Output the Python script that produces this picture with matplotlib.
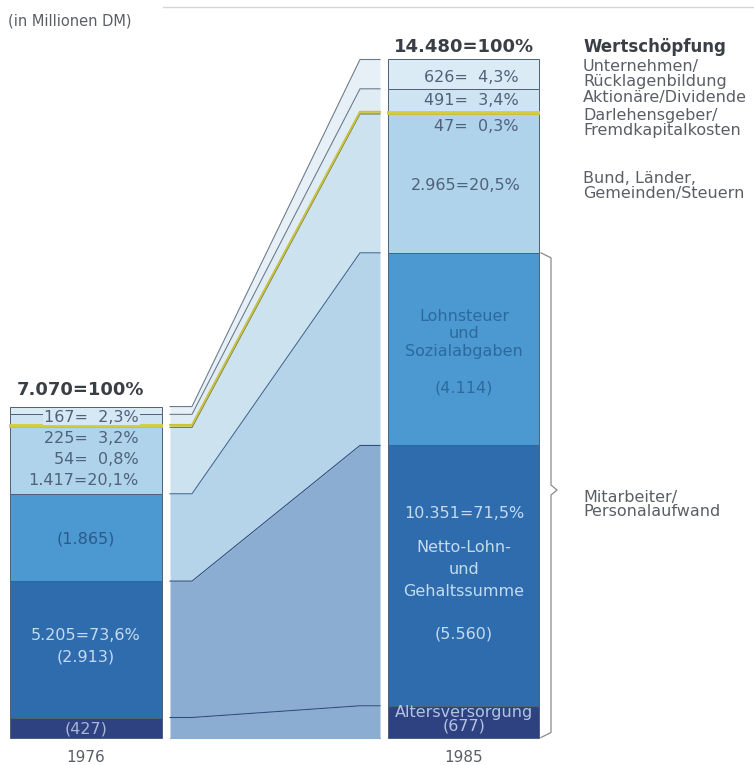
import matplotlib.pyplot as plt
import numpy as np

# Wertschoepfung in Mio DM, 1976 und 1985 (von unten nach oben gestapelt)
years = ['1976', '1985']
altersversorgung = [427, 677]
netto_lohn = [2913, 5560]
lohnsteuer = [1865, 4114]
steuern = [1417, 2965]
fremdkapital = [54, 47]
dividende = [225, 491]
ruecklagen = [167, 626]
totals = [7070, 14480]

segments = [altersversorgung, netto_lohn, lohnsteuer, steuern,
            fremdkapital, dividende, ruecklagen]
bar_cols = ['#2e4282', '#2f6cae', '#4b99d0', '#aed3eb',
            '#e2df55', '#cfe4f2', '#dbebf5']
band_cols = ['#8cadd2', '#8cadd2', '#b6d4e9', '#cde2ef',
             '#d9d86a', '#dfecf4', '#e6f0f6']
line_cols = ['#2f4f7f', '#2f4f7f', '#3f6a95', '#6a7b8c',
             '#c9c235', '#6a7b8c', '#6a7b8c']
edge_cols = ['#4d6078', '#4d6078', '#4d6078', '#4d6078',
             '#d4cc3a', '#4d6078', '#4d6078']

W, H = 754, 765
base_px = 737.5
k = 678 / 14480.0  # pixel je Mio DM

fig = plt.figure(figsize=(W / 100, H / 100), dpi=100)
ax = fig.add_axes([0, 0, 1, 1])
ax.set_xlim(0, W)
ax.set_ylim(-(H - base_px) / k, base_px / k)
ax.axis('off')

bar_x = [86, 463.5]
bar_w = [152, 151]
band_x = [170, 192, 360, 380]

bottom = np.zeros(2)
for vals, bc, fc, lc, ec in zip(segments, bar_cols, band_cols, line_cols,
                                edge_cols):
    vals = np.array(vals, dtype=float)
    top = bottom + vals
    yellow = ec != '#4d6078'
    ax.bar(bar_x, vals, width=bar_w, bottom=bottom, color=bc,
           edgecolor=ec, linewidth=1.3 if yellow else 0.7,
           zorder=3 if yellow else 2)
    lo = [bottom[0], bottom[0], bottom[1], bottom[1]]
    hi = [top[0], top[0], top[1], top[1]]
    ax.fill_between(band_x, lo, hi, color=fc, linewidth=0, zorder=1)
    ax.plot(band_x, hi, color=lc, lw=1.4 if yellow else 0.8, zorder=3)
    bottom = top
# Unterkante des Bandes
ax.plot([band_x[0], band_x[-1]], [0, 0], color='#8cadd2', lw=0.8)

# geschweifte Klammer fuer Mitarbeiter
mit = altersversorgung[1] + netto_lohn[1] + lohnsteuer[1]
bx0, bx1, tip = 541, 551, 557
t, b = mit, 0
mid = mit / 2 + 110
d = 5 / k
ax.plot([bx0, bx1, bx1, tip, bx1, bx1, bx0],
        [t, t - d, mid + d, mid, mid - d, b + d, b],
        color='#8a8a8a', lw=0.9, zorder=3)

# Textebene in Pixelkoordinaten
tx = fig.add_axes([0, 0, 1, 1])
tx.set_xlim(0, W)
tx.set_ylim(H, 0)
tx.axis('off')
tx.patch.set_alpha(0)

font = 'DejaVu Sans'
gray = '#5a5f66'
tx.plot([163, W], [7, 7], color='#d6d6d6', lw=1)
tx.text(8, 21, '(in Millionen DM)', fontsize=10.5, color=gray, family=font,
        va='center')

tx.text(80, 390, '7.070=100%', fontsize=13, weight='bold', color='#3a3f46',
        family=font, ha='center', va='center')
tx.text(464, 47, '14.480=100%', fontsize=13, weight='bold', color='#3a3f46',
        family=font, ha='center', va='center')
tx.text(86, 758, years[0], fontsize=11, color=gray, family=font,
        ha='center', va='center')
tx.text(464, 757, years[1], fontsize=11, color=gray, family=font,
        ha='center', va='center')

lab = '#50627a'
fs = 11.5
# linke Saeule
tx.text(139, 417, '167=  2,3%', fontsize=fs, color=lab, family=font,
        ha='right', va='center',
        bbox=dict(boxstyle='square,pad=0.05', fc='#d6e8f4', ec='none'))
tx.text(139, 438, '225=  3,2%', fontsize=fs, color=lab, family=font,
        ha='right', va='center')
tx.text(139, 459, '54=  0,8%', fontsize=fs, color=lab, family=font,
        ha='right', va='center')
tx.text(139, 480, '1.417=20,1%', fontsize=fs, color=lab, family=font,
        ha='right', va='center')
tx.text(86, 539, '(1.865)', fontsize=fs, color='#2a5a8a', family=font,
        ha='center', va='center')
tx.text(86, 635, '5.205=73,6%', fontsize=fs, color='#c4dbef', family=font,
        ha='center', va='center')
tx.text(86, 657, '(2.913)', fontsize=fs, color='#c4dbef', family=font,
        ha='center', va='center')
tx.text(86, 729, '(427)', fontsize=fs, color='#a9b6d6', family=font,
        ha='center', va='center')

# rechte Saeule
tx.text(519, 77, '626=  4,3%', fontsize=fs, color=lab, family=font,
        ha='right', va='center')
tx.text(519, 100, '491=  3,4%', fontsize=fs, color=lab, family=font,
        ha='right', va='center')
tx.text(519, 126, '47=  0,3%', fontsize=fs, color=lab, family=font,
        ha='right', va='center')
tx.text(466, 185, '2.965=20,5%', fontsize=fs, color=lab, family=font,
        ha='center', va='center')
for txt, y in [('Lohnsteuer', 316), ('und', 333), ('Sozialabgaben', 351),
               ('(4.114)', 388)]:
    tx.text(464, y, txt, fontsize=fs, color='#2c6a9e', family=font,
            ha='center', va='center')
for txt, y in [('10.351=71,5%', 513), ('Netto-Lohn-', 548), ('und', 569),
               ('Gehaltssumme', 591), ('(5.560)', 634)]:
    tx.text(464, y, txt, fontsize=fs, color='#c4dbef', family=font,
            ha='center', va='center')
tx.text(464, 712, 'Altersversorgung', fontsize=fs, color='#b4c2e0',
        family=font, ha='center', va='center')
tx.text(464, 726, '(677)', fontsize=fs, color='#b4c2e0', family=font,
        ha='center', va='center')

# Legende rechts
tx.text(583, 47, 'Wertschöpfung', fontsize=12, weight='bold',
        color='#3a3f46', family=font, va='center')
rl = [('Unternehmen/', 66), ('Rücklagenbildung', 81),
      ('Aktionäre/Dividende', 97), ('Darlehensgeber/', 115),
      ('Fremdkapitalkosten', 130), ('Bund, Länder,', 178),
      ('Gemeinden/Steuern', 193), ('Mitarbeiter/', 497),
      ('Personalaufwand', 512)]
for txt, y in rl:
    tx.text(583, y, txt, fontsize=11.5, color=gray, family=font, va='center')

fig.savefig('out.png', dpi=100, facecolor='white')
